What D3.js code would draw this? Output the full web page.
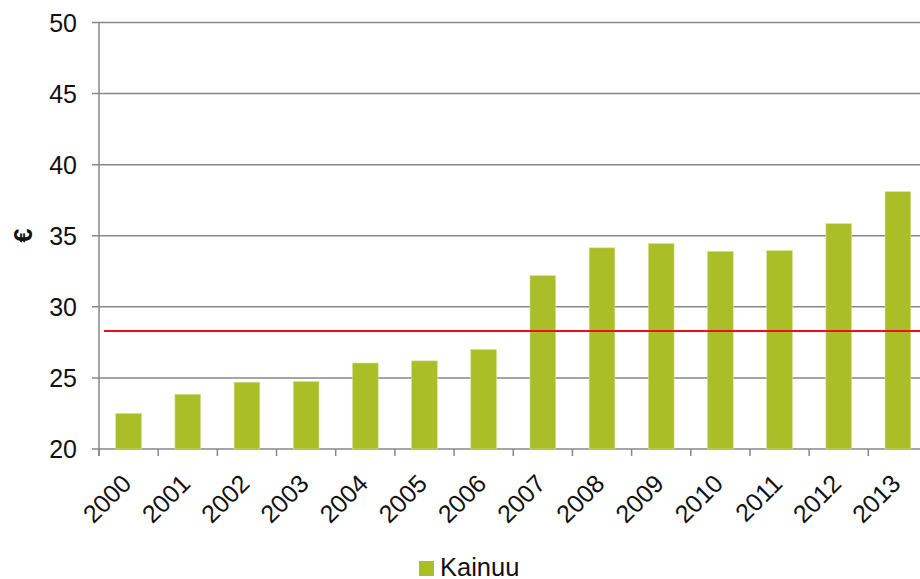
<!DOCTYPE html>
<html>
<head>
<meta charset="utf-8">
<script src="https://cdn.jsdelivr.net/npm/d3@7"></script>
<style>
  body { margin: 0; background: #fff; }
  svg { display: block; font-family: "Liberation Sans", Arial, sans-serif; }
</style>
</head>
<body>
<div id="chart"></div>
<script>
// chart data
var years = ["2000","2001","2002","2003","2004","2005","2006","2007","2008","2009","2010","2011","2012","2013"];
var kainuu = [22.5, 23.85, 24.7, 24.75, 26.05, 26.2, 27.0, 32.2, 34.15, 34.45, 33.9, 33.95, 35.85, 38.1];
var average = [28.3];
var yTicks = [20, 25, 30, 35, 40, 45, 50];
var seriesName = "Kainuu";
var unitLabel = "€";

var width = 920, height = 579;
var plotLeft = 99, plotRight = 927.5, plotTop = 22.5, plotBottom = 449;

var svg = d3.select("#chart").append("svg")
  .attr("width", width)
  .attr("height", height);

var x = d3.scaleBand()
  .domain(years)
  .range([plotLeft, plotRight])
  .paddingInner(0.565)
  .paddingOuter(0.2825);

var y = d3.scaleLinear()
  .domain([20, 50])
  .range([plotBottom, plotTop]);

// gridlines
svg.append("g")
  .selectAll("line")
  .data(yTicks)
  .enter()
  .append("line")
  .attr("x1", plotLeft - 7)
  .attr("x2", width)
  .attr("y1", function(d){ return y(d); })
  .attr("y2", function(d){ return y(d); })
  .attr("stroke", "#878787")
  .attr("stroke-width", 1.5);

// y axis line
svg.append("line")
  .attr("x1", plotLeft).attr("x2", plotLeft)
  .attr("y1", plotTop).attr("y2", plotBottom + 7)
  .attr("stroke", "#878787")
  .attr("stroke-width", 1.5);

// x ticks (band boundaries)
var step = x.step();
svg.append("g")
  .selectAll("line")
  .data(years)
  .enter()
  .append("line")
  .attr("x1", function(d, i){ return plotLeft + i * step; })
  .attr("x2", function(d, i){ return plotLeft + i * step; })
  .attr("y1", plotBottom)
  .attr("y2", plotBottom + 7)
  .attr("stroke", "#878787")
  .attr("stroke-width", 1.5);

// y tick labels
svg.append("g")
  .selectAll("text")
  .data(yTicks)
  .enter()
  .append("text")
  .attr("x", 77)
  .attr("y", function(d){ return y(d); })
  .attr("dy", "0.36em")
  .attr("text-anchor", "end")
  .attr("font-size", 25)
  .attr("fill", "#111")
  .text(function(d){ return d; });

// bars
svg.append("g")
  .selectAll("rect")
  .data(kainuu)
  .enter()
  .append("rect")
  .attr("x", function(d, i){ return x(years[i]); })
  .attr("y", function(d){ return y(d); })
  .attr("width", x.bandwidth())
  .attr("height", function(d){ return plotBottom - y(d); })
  .attr("fill", "#aabe28")
  .attr("stroke", "#d6e29a")
  .attr("stroke-width", 0.6);

// average line
svg.append("g")
  .selectAll("line")
  .data(average)
  .enter()
  .append("line")
  .attr("x1", plotLeft + 5)
  .attr("x2", width)
  .attr("y1", function(d){ return y(d); })
  .attr("y2", function(d){ return y(d); })
  .attr("stroke", "#e3151b")
  .attr("stroke-width", 2);

// x labels
svg.append("g")
  .selectAll("text")
  .data(years)
  .enter()
  .append("text")
  .attr("transform", function(d){
    return "translate(" + (x(d) + x.bandwidth() / 2 - 2) + ",479) rotate(-45)";
  })
  .attr("dy", "0.35em")
  .attr("text-anchor", "end")
  .attr("font-size", 25)
  .attr("fill", "#111")
  .text(function(d){ return d; });

// y axis title
svg.append("text")
  .attr("transform", "translate(23,235.5) rotate(-90)")
  .attr("dy", "0.35em")
  .attr("text-anchor", "middle")
  .attr("font-size", 25)
  .attr("font-weight", "bold")
  .attr("fill", "#111")
  .text(unitLabel);

// legend
var legend = svg.append("g").attr("class", "legend");
legend.append("rect")
  .attr("x", 419)
  .attr("y", 561)
  .attr("width", 15)
  .attr("height", 15)
  .attr("fill", "#aabe28");
legend.append("text")
  .attr("x", 440)
  .attr("y", 576)
  .attr("font-size", 25.5)
  .attr("fill", "#111")
  .text(seriesName);
</script>
</body>
</html>
